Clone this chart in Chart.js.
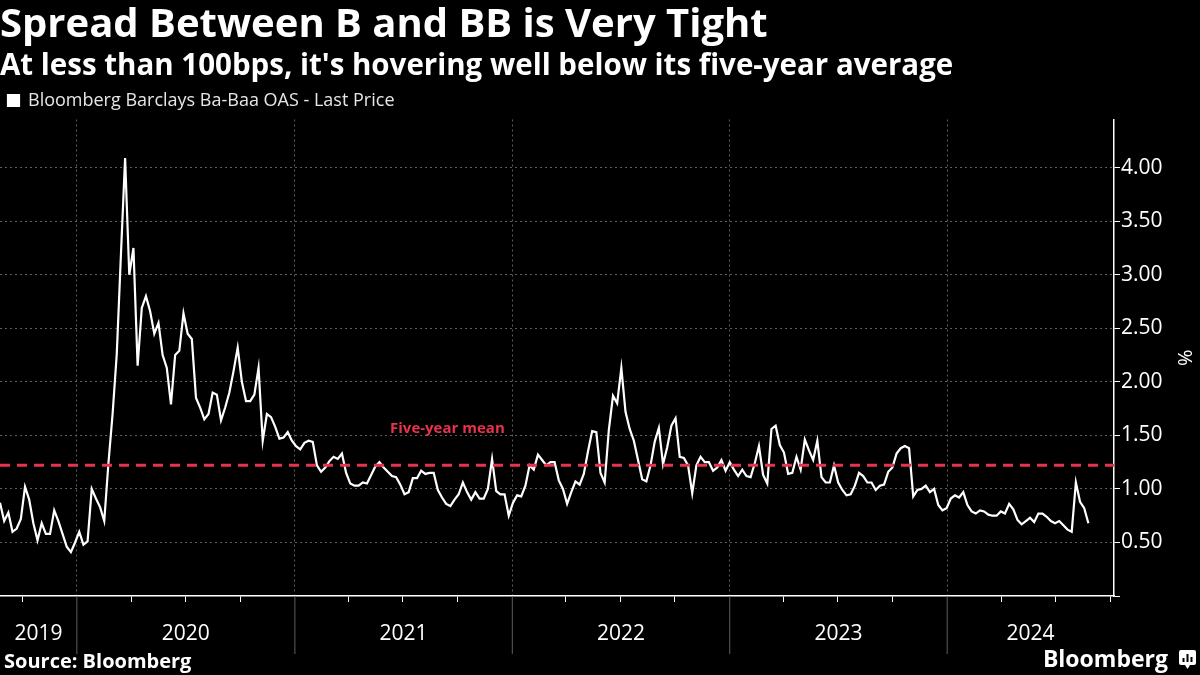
<!DOCTYPE html>
<html>
<head>
<meta charset="utf-8">
<script src="https://cdn.jsdelivr.net/npm/chart.js@4.4.1/dist/chart.umd.min.js"></script>
<style>
  html, body { margin: 0; padding: 0; background: #000; }
  canvas { display: block; }
</style>
</head>
<body>
<canvas id="myChart" width="1200" height="675"></canvas>
<script>
const FONT = "'Open Sans', 'Noto Sans', sans-serif";
const RED = "#e8334c";

const titleText = "Spread Between B and BB is Very Tight";
const subtitleText = "At less than 100bps, it's hovering well below its five-year average";
const seriesLabel = "Bloomberg Barclays Ba-Baa OAS - Last Price";
const meanLabel = "Five-year mean";
const sourceText = "Source: Bloomberg";

// weekly readings, first one on this date
const firstWeek = "2019-08-25";
const axisStart = "2019-08-25";
const axisEnd = "2024-10-07";
const meanLabelDate = "2021-09-14";
const years = [2019, 2020, 2021, 2022, 2023, 2024];
const yLabels = [0.5, 1, 1.5, 2, 2.5, 3, 3.5, 4];
const fiveYearMean = 1.22;

const oas = [
  0.87, 0.70, 0.78, 0.60, 0.63, 0.72, 1.02, 0.90, 0.68, 0.52,
  0.68, 0.58, 0.58, 0.80, 0.70, 0.58, 0.46, 0.41, 0.50, 0.60,
  0.48, 0.51, 1.00, 0.91, 0.83, 0.70, 1.24, 1.70, 2.26, 3.19,
  4.09, 3.00, 3.25, 2.15, 2.69, 2.80, 2.66, 2.45, 2.55, 2.25,
  2.13, 1.79, 2.25, 2.29, 2.64, 2.45, 2.40, 1.85, 1.76, 1.65,
  1.70, 1.90, 1.88, 1.64, 1.76, 1.90, 2.10, 2.32, 2.00, 1.82,
  1.82, 1.88, 2.13, 1.45, 1.70, 1.67, 1.58, 1.47, 1.48, 1.53,
  1.45, 1.40, 1.37, 1.43, 1.45, 1.44, 1.22, 1.16, 1.20, 1.26,
  1.30, 1.28, 1.33, 1.15, 1.05, 1.03, 1.03, 1.06, 1.05, 1.13,
  1.21, 1.25, 1.20, 1.16, 1.12, 1.11, 1.04, 0.95, 0.97, 1.10,
  1.10, 1.17, 1.14, 1.15, 1.15, 0.99, 0.92, 0.86, 0.84, 0.90,
  0.95, 1.06, 0.97, 0.90, 0.97, 0.91, 0.91, 1.00, 1.28, 0.98,
  0.95, 0.95, 0.75, 0.87, 0.94, 0.93, 1.03, 1.22, 1.18, 1.32,
  1.27, 1.22, 1.25, 1.25, 1.08, 1.00, 0.86, 0.97, 1.07, 1.04,
  1.14, 1.35, 1.54, 1.53, 1.15, 1.06, 1.55, 1.87, 1.80, 2.13,
  1.72, 1.56, 1.45, 1.27, 1.09, 1.07, 1.22, 1.44, 1.57, 1.23,
  1.39, 1.59, 1.66, 1.30, 1.29, 1.22, 0.96, 1.22, 1.30, 1.25,
  1.25, 1.17, 1.20, 1.27, 1.17, 1.25, 1.18, 1.12, 1.18, 1.12,
  1.11, 1.24, 1.40, 1.13, 1.05, 1.56, 1.59, 1.41, 1.34, 1.14,
  1.15, 1.30, 1.18, 1.46, 1.36, 1.27, 1.45, 1.11, 1.06, 1.06,
  1.22, 1.06, 0.99, 0.94, 0.95, 1.03, 1.15, 1.12, 1.06, 1.06,
  0.99, 1.03, 1.04, 1.16, 1.20, 1.33, 1.38, 1.40, 1.38, 0.93,
  0.99, 1.00, 1.03, 0.97, 1.00, 0.85, 0.80, 0.82, 0.91, 0.94,
  0.92, 0.97, 0.85, 0.79, 0.77, 0.80, 0.79, 0.76, 0.75, 0.75,
  0.79, 0.77, 0.86, 0.81, 0.71, 0.67, 0.70, 0.73, 0.69, 0.77,
  0.77, 0.74, 0.70, 0.68, 0.70, 0.66, 0.62, 0.60, 1.06, 0.88,
  0.82, 0.68
];

const DAY = 86400000;
const t0 = Date.parse(firstWeek);
const points = oas.map((v, i) => ({ x: t0 + i * 7 * DAY, y: v }));
const xMin = Date.parse(axisStart);
const xMax = Date.parse(axisEnd);

const quarterTicks = [];
years.forEach((yr) => {
  [0, 3, 6, 9].forEach((m) => {
    const v = Date.UTC(yr, m, 1);
    if (v >= xMin && v <= xMax) quarterTicks.push(v);
  });
});

const isYearStart = (v) => new Date(v).getUTCMonth() === 0;
const isMajor = (v) => yLabels.some((l) => Math.abs(l - v) < 1e-6);

Chart.defaults.font.family = FONT;

const decorations = {
  id: "decorations",
  afterDraw(chart) {
    const { ctx, chartArea, scales } = chart;
    const x = scales.x;
    const y = scales.y;
    ctx.save();

    // year separators + labels under the axis
    ctx.strokeStyle = "#5e5e5e";
    ctx.lineWidth = 1;
    ctx.fillStyle = "#fff";
    ctx.font = "21px " + FONT;
    ctx.textAlign = "center";
    ctx.textBaseline = "middle";
    years.forEach((yr) => {
      const a = x.getPixelForValue(Date.UTC(yr, 0, 1));
      const b = x.getPixelForValue(Date.UTC(yr + 1, 0, 1));
      if (a > chartArea.left && a < chartArea.right) {
        ctx.beginPath();
        ctx.moveTo(a, chartArea.bottom);
        ctx.lineTo(a, chartArea.bottom + 58);
        ctx.stroke();
      }
      const l = Math.max(a, chartArea.left);
      const r = Math.min(b, chartArea.right);
      ctx.fillText(String(yr), (l + r) / 2, chartArea.bottom + 38);
    });

    // mean annotation
    ctx.fillStyle = RED;
    ctx.font = "bold 15px " + FONT;
    ctx.fillText(meanLabel, x.getPixelForValue(Date.parse(meanLabelDate)), y.getPixelForValue(fiveYearMean) - 37);

    // footer
    ctx.fillStyle = "#fff";
    ctx.textAlign = "left";
    ctx.font = "bold 20px " + FONT;
    ctx.fillText(sourceText, 4, 662);
    ctx.textAlign = "right";
    ctx.font = "bold 23px " + FONT;
    ctx.fillText("Bloomberg", 1168, 660);

    // little logo box
    ctx.beginPath();
    ctx.roundRect(1179, 650, 17, 15, 2);
    ctx.moveTo(1185, 665);
    ctx.lineTo(1187.5, 669);
    ctx.lineTo(1190, 665);
    ctx.fill();
    ctx.fillStyle = "#000";
    ctx.fillRect(1182.5, 658, 2, 4);
    ctx.fillRect(1186.5, 654, 2, 8);
    ctx.fillRect(1190.5, 657, 2, 5);
    ctx.restore();
  },
};

new Chart(document.getElementById("myChart").getContext("2d"), {
  type: "line",
  data: {
    datasets: [
      {
        label: meanLabel,
        data: [{ x: xMin, y: fiveYearMean }, { x: xMax, y: fiveYearMean }],
        borderColor: RED,
        borderWidth: 3,
        borderDash: [10, 7],
        pointRadius: 0,
        order: 0,
      },
      {
        label: seriesLabel,
        data: points,
        borderColor: "#fff",
        backgroundColor: "#fff",
        borderWidth: 2.2,
        pointRadius: 0,
        order: 1,
      },
    ],
  },
  options: {
    responsive: false,
    animation: false,
    layout: { padding: { top: 3, bottom: 21, left: 0, right: 0 } },
    plugins: {
      title: {
        display: true,
        text: titleText,
        align: "start",
        color: "#fff",
        font: { family: FONT, size: 40, weight: "bold", lineHeight: 1.15 },
        padding: 0,
      },
      subtitle: {
        display: true,
        text: subtitleText,
        align: "start",
        color: "#fff",
        font: { family: FONT, size: 29.5, weight: "bold", lineHeight: 1.17 },
        padding: 0,
      },
      legend: {
        display: true,
        align: "start",
        labels: {
          color: "#e6e6e6",
          font: { family: FONT, size: 18 },
          boxWidth: 11,
          boxHeight: 11,
          padding: 8,
          filter: (item) => item.text === seriesLabel,
        },
      },
      tooltip: { enabled: false },
    },
    scales: {
      x: {
        type: "linear",
        min: xMin,
        max: xMax,
        afterBuildTicks: (s) => {
          s.ticks = quarterTicks.map((v) => ({ value: v }));
        },
        afterFit: (s) => {
          s.height = 58;
        },
        ticks: { callback: () => "", autoSkip: false, maxRotation: 0 },
        grid: {
          color: (c) => (c.tick && isYearStart(c.tick.value) ? "#5e5e5e" : "rgba(0,0,0,0)"),
          tickColor: (c) => (c.tick && isYearStart(c.tick.value) ? "rgba(0,0,0,0)" : "#fff"),
          tickLength: 6,
          lineWidth: 1,
        },
        border: { color: "#fff", width: 1.5, dash: [2, 3] },
      },
      y: {
        position: "right",
        min: 0,
        max: 4.45,
        afterFit: (s) => {
          s.width = 86;
        },
        ticks: {
          stepSize: 0.25,
          includeBounds: false,
          padding: 1,
          color: "#fff",
          font: { family: FONT, size: 21 },
          callback: (v) => (isMajor(v) ? v.toFixed(2) : ""),
        },
        grid: {
          color: (c) => (c.tick && isMajor(c.tick.value) ? "#5e5e5e" : "rgba(0,0,0,0)"),
          tickColor: "#fff",
          tickLength: 6,
          lineWidth: 1,
        },
        border: { color: "#fff", width: 1.5, dash: [2, 3] },
        title: { display: true, text: "%", color: "#fff", font: { family: FONT, size: 20 } },
      },
    },
  },
  plugins: [decorations],
});
</script>
</body>
</html>
